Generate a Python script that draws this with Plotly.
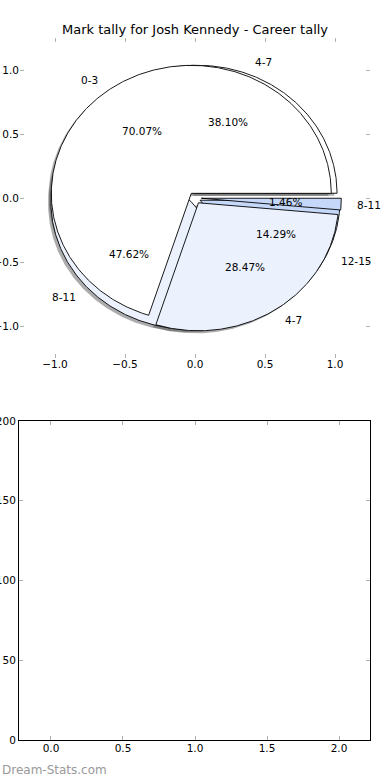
import numpy as np
import plotly.graph_objects as go

title = "Mark tally for Josh Kennedy - Career tally"
# Pie drawn first (behind)
pie_a_labels = ["4-7", "8-11", "12-15"]
pie_a_counts = [8, 10, 3]
# Pie drawn second (on top)
pie_b_labels = ["0-3", "4-7", "8-11"]
pie_b_counts = [96, 39, 2]

slice_colors = ["#ffffff", "#ebf1fd", "#c5d8f9"]
explode_a = 0.04
explode_b = 0.045

top_ticks = [-1.0, -0.5, 0.0, 0.5, 1.0]
bottom_xticks = [0.0, 0.5, 1.0, 1.5, 2.0]
bottom_yticks = [0, 50, 100, 150, 200]

W, H = 390, 780
fig = go.Figure()


def wedges(counts, explode):
    total = float(sum(counts))
    out = []
    start = 0.0
    for c in counts:
        frac = c / total
        end = start + 360.0 * frac
        mid = np.deg2rad((start + end) / 2)
        cx, cy = explode * np.cos(mid), explode * np.sin(mid)
        th = np.deg2rad(np.linspace(start, end, max(4, int((end - start) * 2))))
        xs = np.concatenate([[cx], cx + np.cos(th), [cx]])
        ys = np.concatenate([[cy], cy + np.sin(th), [cy]])
        out.append(dict(xs=xs, ys=ys, mid=mid, cx=cx, cy=cy, pct=100 * frac))
        start = end
    return out


wa = wedges(pie_a_counts, explode_a)
wb = wedges(pie_b_counts, explode_b)


def shade(hexc):
    h = hexc.lstrip("#")
    r, g, b = (int(h[i:i + 2], 16) for i in (0, 2, 4))
    return "rgba(%d,%d,%d,0.45)" % (0.3 * r, 0.3 * g, 0.3 * b)


# shadows (under all wedges)
for ws in (wa, wb):
    for i, w in enumerate(ws):
        fig.add_trace(go.Scatter(x=w["xs"] - 0.02, y=w["ys"] - 0.02, mode="lines",
                                 fill="toself", fillcolor=shade(slice_colors[i]),
                                 line=dict(width=0), hoverinfo="skip",
                                 showlegend=False, xaxis="x", yaxis="y"))
# wedges
for ws in (wa, wb):
    for i, w in enumerate(ws):
        fig.add_trace(go.Scatter(x=w["xs"], y=w["ys"], mode="lines",
                                 fill="toself", fillcolor=slice_colors[i],
                                 line=dict(color="black", width=0.9),
                                 hoverinfo="skip", showlegend=False,
                                 xaxis="x", yaxis="y"))

annos = []
font_small = dict(family="DejaVu Sans", size=10.5, color="black")
for ws, labels in ((wa, pie_a_labels), (wb, pie_b_labels)):
    for w, lab in zip(ws, labels):
        lx = w["cx"] + 1.1 * np.cos(w["mid"])
        ly = w["cy"] + 1.1 * np.sin(w["mid"])
        annos.append(dict(x=lx, y=ly, xref="x", yref="y", text=lab, showarrow=False,
                          xanchor="right" if lx < 0 else "left", yanchor="middle",
                          font=font_small))
        px_ = w["cx"] + 0.6 * np.cos(w["mid"])
        py_ = w["cy"] + 0.6 * np.sin(w["mid"])
        annos.append(dict(x=px_, y=py_, xref="x", yref="y", text="%.2f%%" % w["pct"],
                          showarrow=False, xanchor="center", yanchor="middle",
                          font=font_small))

annos.append(dict(x=0.5, y=(H - 30) / H, xref="paper", yref="paper", text=title,
                  showarrow=False, xanchor="center", yanchor="middle",
                  font=dict(family="DejaVu Sans", size=13, color="black")))
annos.append(dict(x=0.0, y=(H - 770) / H, xref="paper", yref="paper", text="Dream-Stats.com",
                  showarrow=False, xanchor="left", yanchor="middle",
                  font=dict(family="DejaVu Sans", size=12, color="#999999")))

tickfont = dict(family="DejaVu Sans", size=10.5, color="black")
common = dict(ticks="inside", ticklen=4, tickcolor="#b0b0b0", tickwidth=1,
              showgrid=False, zeroline=False, tickfont=tickfont, fixedrange=True)

fig.update_layout(
    width=W, height=H, margin=dict(l=0, r=0, t=0, b=0, autoexpand=False),
    paper_bgcolor="white", plot_bgcolor="white", showlegend=False,
    xaxis=dict(domain=[20 / W, 370 / W], range=[-1.25, 1.25], tickvals=top_ticks,
               tickformat=".1f", anchor="y", showline=False, mirror="ticks",
               ticklabelstandoff=-2, **common),
    yaxis=dict(domain=[(H - 358) / H, (H - 38) / H], range=[-1.25, 1.25], tickvals=top_ticks,
               tickformat=".1f", anchor="x", showline=False, mirror="ticks",
               ticklabeloverflow="allow", **common),
    xaxis2=dict(domain=[19 / W, 370 / W], range=[-0.222, 2.215], tickvals=bottom_xticks,
                tickformat=".1f", anchor="y2", showline=True, linecolor="black",
                linewidth=1, mirror="ticks", ticklabelstandoff=-2, **common),
    yaxis2=dict(domain=[(H - 740) / H, (H - 421) / H], range=[0, 200], tickvals=bottom_yticks,
                anchor="x2", showline=True, linecolor="black", linewidth=1,
                mirror="ticks", ticklabeloverflow="allow", **common),
    annotations=annos,
)
fig.add_trace(go.Bar(x=[], y=[], xaxis="x2", yaxis="y2", showlegend=False))

fig.write_html("out.html", post_script="document.body.style.margin='0';",
               config={"displayModeBar": False})
